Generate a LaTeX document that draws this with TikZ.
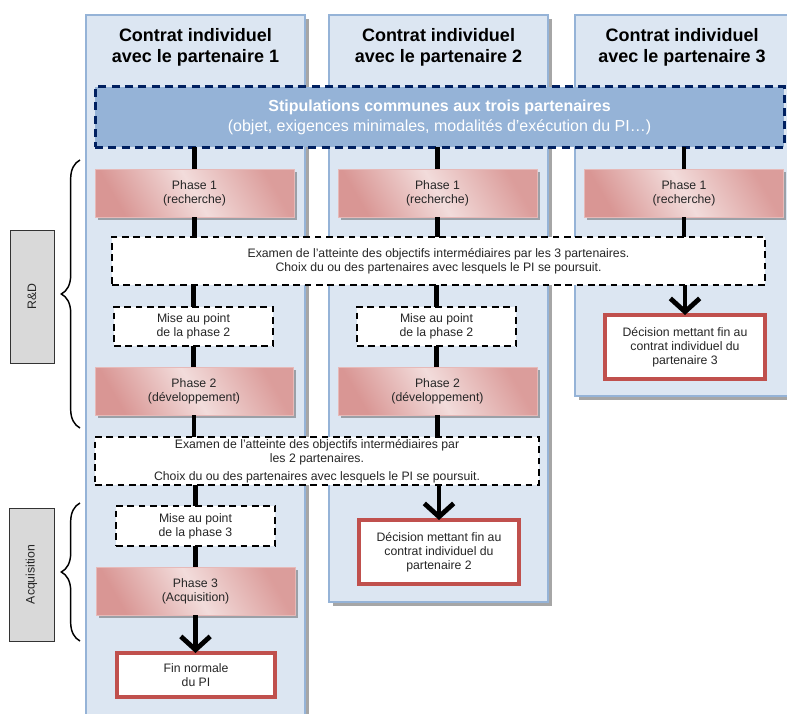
\documentclass[tikz,border=0pt]{standalone}
\usepackage{fontspec}
\setmainfont{Liberation Sans}
\usetikzlibrary{arrows.meta,shadows,decorations.pathreplacing}
\definecolor{colfill}{HTML}{DCE6F2}
\definecolor{colborder}{HTML}{95B3D7}
\definecolor{stipfill}{HTML}{95B3D7}
\definecolor{stipborder}{HTML}{002060}
\definecolor{pinkD}{HTML}{D99694}
\definecolor{pinkL}{HTML}{F2DCDB}
\definecolor{pinkB}{HTML}{E6B9B8}
\definecolor{decred}{HTML}{C0504D}
\definecolor{grayfill}{HTML}{D9D9D9}
\definecolor{txt}{HTML}{262626}
\begin{document}
\begin{tikzpicture}[x=0.75pt,y=-0.75pt,
  every node/.style={inner sep=0pt, outer sep=0pt, align=center, text=txt,
    font=\fontsize{9.2}{10.6}\selectfont},
  colbox/.style={draw=colborder, fill=colfill, line width=1.5pt,
    drop shadow={shadow xshift=3pt, shadow yshift=-3pt, opacity=0.35, fill=black}},
  hdr/.style={text=black, font=\fontsize{13.5}{15.75}\selectfont\bfseries},
  stipbox/.style={draw=stipborder, fill=stipfill, line width=2.25pt,
    dash pattern=on 6pt off 4pt, text=white, font=\fontsize{12}{15}\selectfont},
  phasebox/.style={draw=pinkB, line width=0.75pt, top color=pinkD!90!pinkL, bottom color=pinkD,
    middle color=pinkL, shading angle=-60,
    drop shadow={shadow xshift=2pt, shadow yshift=-2.5pt, opacity=0.45, fill=black!70}},
  dashbox/.style={draw=black, fill=white, line width=1.9pt, dash pattern=on 5pt off 3.5pt},
  decbox/.style={draw=decred, fill=white, line width=3pt},
  graybox/.style={draw=black!80, fill=grayfill, line width=0.75pt},
  conn/.style={line width=3.6pt, draw=black},
  arr/.style={line width=3.6pt, draw=black, -{Straight Barb[length=10pt,width=22pt]}},
  bracestyle/.style={line width=1.1pt, decorate, decoration={brace, amplitude=14pt}}
]
\useasboundingbox (0,0) rectangle (787,713);
\clip (0,0) rectangle (787,713);

% columns
\draw[colbox] (86,15) rectangle (305,730);
\draw[colbox] (329,15) rectangle (548,602);
\draw[colbox] (575,15) rectangle (800,396);

% headers
\node[hdr] (h1) at (195.5,47) {Contrat individuel\\avec le partenaire 1};
\node[hdr] (h2) at (438.5,47) {Contrat individuel\\avec le partenaire 2};
\node[hdr] (h3) at (682,47) {Contrat individuel\\avec le partenaire 3};

% common stipulations
\node[stipbox, minimum width=689*0.75pt, minimum height=60*0.75pt] (stip) at (439.5,117)
  {{\bfseries Stipulations communes aux trois partenaires}\\(objet, exigences minimales, modalités d’exécution du PI…)};

% phase 1
\node[phasebox, minimum width=199*0.75pt, minimum height=48*0.75pt] (p1a) at (194.5,193) {Phase 1\\(recherche)};
\node[phasebox, minimum width=199*0.75pt, minimum height=48*0.75pt] (p1b) at (437.5,193) {Phase 1\\(recherche)};
\node[phasebox, minimum width=199*0.75pt, minimum height=48*0.75pt] (p1c) at (684,193) {Phase 1\\(recherche)};

% examen 1
\node[dashbox, minimum width=653*0.75pt, minimum height=48*0.75pt] (ex1) at (438.5,261)
  {Examen de l’atteinte des objectifs intermédiaires par les 3 partenaires.\\Choix du ou des partenaires avec lesquels le PI se poursuit.};

% mise au point phase 2
\node[dashbox, minimum width=159*0.75pt, minimum height=39*0.75pt] (m2a) at (193.5,326.5) {Mise au point\\de la phase 2};
\node[dashbox, minimum width=159*0.75pt, minimum height=39*0.75pt] (m2b) at (436.5,326.5) {Mise au point\\de la phase 2};

% phase 2
\node[phasebox, minimum width=198*0.75pt, minimum height=48*0.75pt] (p2a) at (194,391) {Phase 2\\(développement)};
\node[phasebox, minimum width=199*0.75pt, minimum height=48*0.75pt] (p2b) at (437.5,391) {Phase 2\\(développement)};

% decision 3
\node[decbox, minimum width=160*0.75pt, minimum height=64*0.75pt] (d3) at (685,347)
  {Décision mettant fin au\\contrat individuel du\\partenaire 3};

% examen 2
\node[dashbox, minimum width=444*0.75pt, minimum height=48*0.75pt] (ex2) at (317,461)
  {Examen de l’atteinte des objectifs intermédiaires par\\les 2 partenaires.\\[3pt]Choix du ou des partenaires avec lesquels le PI se poursuit.};

% decision 2
\node[decbox, minimum width=160*0.75pt, minimum height=64*0.75pt] (d2) at (439,552)
  {Décision mettant fin au\\contrat individuel du\\partenaire 2};

% mise au point phase 3
\node[dashbox, minimum width=159*0.75pt, minimum height=40*0.75pt] (m3) at (195.5,526) {Mise au point\\de la phase 3};

% phase 3
\node[phasebox, minimum width=199*0.75pt, minimum height=48*0.75pt] (p3) at (195.5,591) {Phase 3\\(Acquisition)};

% fin normale
\node[decbox, minimum width=158*0.75pt, minimum height=44*0.75pt] (fin) at (196,675) {Fin normale\\du PI};

% side labels
\node[graybox, minimum width=44*0.75pt, minimum height=133*0.75pt] (rd) at (32,296.5) {};
\node[rotate=90] (rdt) at (rd.center) {R\&D};
\node[graybox, minimum width=45*0.75pt, minimum height=133*0.75pt] (acq) at (31.5,574.5) {};
\node[rotate=90] (acqt) at (acq.center) {Acquisition};

\coordinate (b1s) at (80,428);
\coordinate (b1e) at (80,160);
\coordinate (b2s) at (80,641);
\coordinate (b2e) at (80,503);
\draw[bracestyle] (b1s) -- (b1e);
\draw[bracestyle] (b2s) -- (b2e);

% connectors column 1
\draw[conn] (stip.south -| p1a.north) -- (p1a.north);
\draw[conn] (p1a.south) -- (p1a.south |- ex1.north);
\draw[conn] (ex1.south -| m2a.north) -- (m2a.north);
\draw[conn] (m2a.south) -- (m2a.south |- p2a.north);
\draw[conn] (p2a.south) -- (p2a.south |- ex2.north);
\draw[conn] (ex2.south -| m3.north) -- (m3.north);
\draw[conn] (m3.south) -- (m3.south |- p3.north);
\draw[arr] (p3.south) -- (p3.south |- fin.north);
% connectors column 2
\draw[conn] (stip.south -| p1b.north) -- (p1b.north);
\draw[conn] (p1b.south) -- (p1b.south |- ex1.north);
\draw[conn] (ex1.south -| m2b.north) -- (m2b.north);
\draw[conn] (m2b.south) -- (m2b.south |- p2b.north);
\draw[conn] (p2b.south) -- (p2b.south |- ex2.north);
\draw[arr] (ex2.south -| d2.north) -- (d2.north);
% connectors column 3
\draw[conn] (stip.south -| p1c.north) -- (p1c.north);
\draw[conn] (p1c.south) -- (p1c.south |- ex1.north);
\draw[arr] (ex1.south -| d3.north) -- (d3.north);
\end{tikzpicture}
\end{document}
